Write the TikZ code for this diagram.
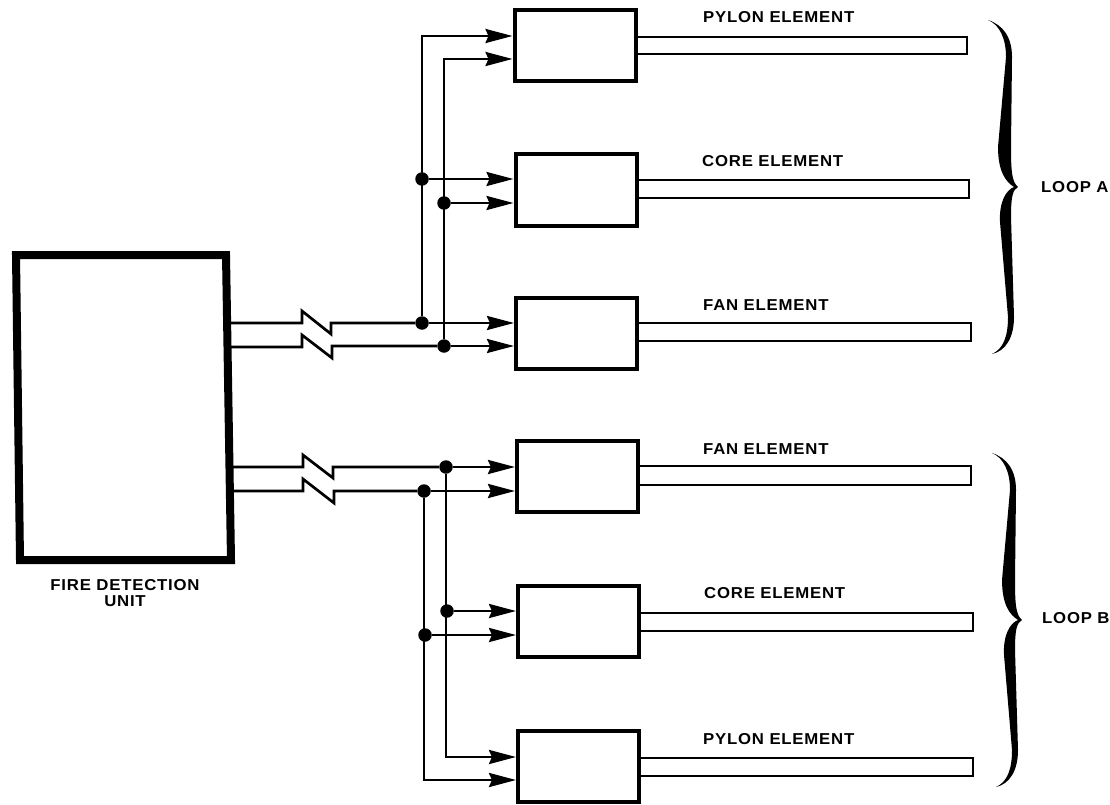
\documentclass[tikz,border=0pt]{standalone}
\usepackage{fontspec}
\setmainfont{Liberation Sans}[FakeStretch=1.06,LetterSpace=5]
\usetikzlibrary{arrows.meta}

\tikzset{
  wire/.style={line width=2.7pt},
  unitline/.style={line width=8pt, line join=miter},
  elbox/.style={draw, line width=4pt, fill=white, minimum width=121pt, minimum height=71pt},
  strip/.style={line width=2.7pt, line join=miter},
  junct/.style={circle, fill, inner sep=0pt, minimum size=13.5pt},
  lbl/.style={anchor=west, inner sep=0pt, font=\fontsize{15.8}{18}\bfseries\selectfont},
  loopbrace/.pic={
    \fill (-30,-167) .. controls (-15,-162) and (-6,-150) .. (-6,-130) -- (-7,-40)
      .. controls (-7,-15) and (-6,-5) .. (0,0) .. controls (-5,3) and (-7,8) .. (-7,30)
      -- (-4,130) .. controls (-4,150) and (-12,164) .. (-26,167)
      .. controls (-15,162) and (-10,150) .. (-10,130) -- (-18,35)
      .. controls (-19,15) and (-12,3) .. (-4,0) .. controls (-12,-5) and (-20,-15) .. (-20,-40)
      -- (-12,-130) .. controls (-12,-148) and (-18,-162) .. (-30,-167) -- cycle;
  }
}

\begin{document}
\begin{tikzpicture}[x=1pt, y=-1pt, >={Stealth[length=27pt,width=14pt,inset=3pt]}]
  \useasboundingbox (0,0) rectangle (1110,805);

  % fire detection unit
  \draw[unitline] (16,255) -- (226,255) -- (231,560) -- (20,560) -- cycle;
  \node[anchor=center, inner sep=0pt, align=center, font=\fontsize{15.8}{16}\bfseries\selectfont] (unitlabel) at (125,593) {FIRE DETECTION\\UNIT};

  \coordinate (outA) at (229,323);
  \coordinate (outB) at (229,347);
  \coordinate (outC) at (231,467);
  \coordinate (outD) at (231,491);

  % element boxes
  \node[elbox] (pylonA) at (575,46) {};
  \node[elbox] (coreA) at (576,190) {};
  \node[elbox] (fanA) at (576.5,333) {};
  \node[elbox] (fanB) at (577.5,476.5) {};
  \node[elbox] (coreB) at (578.5,621.5) {};
  \node[elbox] (pylonB) at (578.5,766.5) {};

  % sensing elements
  \draw[strip] (pylonA.east |- 0,37) -- (967,37) -- (967,54) -- (pylonA.east |- 0,54);
  \draw[strip] (coreA.east |- 0,180) -- (969,180) -- (969,198) -- (coreA.east |- 0,198);
  \draw[strip] (fanA.east |- 0,323) -- (971,323) -- (971,341) -- (fanA.east |- 0,341);
  \draw[strip] (fanB.east |- 0,466) -- (971,466) -- (971,485) -- (fanB.east |- 0,485);
  \draw[strip] (coreB.east |- 0,613) -- (973,613) -- (973,631) -- (coreB.east |- 0,631);
  \draw[strip] (pylonB.east |- 0,758) -- (973,758) -- (973,776) -- (pylonB.east |- 0,776);

  \node[lbl] (lblpylonA) at (703,17) {PYLON ELEMENT};
  \node[lbl] (lblcoreA) at (702,161) {CORE ELEMENT};
  \node[lbl] (lblfanA) at (703,305) {FAN ELEMENT};
  \node[lbl] (lblfanB) at (703,449) {FAN ELEMENT};
  \node[lbl] (lblcoreB) at (704,593) {CORE ELEMENT};
  \node[lbl] (lblpylonB) at (703,739) {PYLON ELEMENT};

  % junctions
  \node[junct] (jA) at (422,323) {};
  \node[junct] (jB) at (444,346) {};
  \node[junct] (jA2) at (422,179) {};
  \node[junct] (jB2) at (444,203) {};
  \node[junct] (jC) at (446,467) {};
  \node[junct] (jD) at (424,491) {};
  \node[junct] (jC2) at (447,611) {};
  \node[junct] (jD2) at (425,635) {};

  % wires with breaks
  \draw[wire] (outA) -- (302,323) -- (302,311) -- (331,334) -- (331,323) -- (jA);
  \draw[wire] (outB) -- (302,347) -- (302,335) -- (332,358) -- (332,346) -- (jB);
  \draw[wire] (outC) -- (303,467) -- (303,455) -- (333,478) -- (333,467) -- (jC);
  \draw[wire] (outD) -- (303,491) -- (303,479) -- (334,503) -- (334,491) -- (jD);

  \draw[wire,->] (jA) -- (jA -| fanA.west);
  \draw[wire,->] (jB) -- (jB -| fanA.west);
  \draw[wire,->] (jC) -- (jC -| fanB.west);
  \draw[wire,->] (jD) -- (jD -| fanB.west);
  \draw[wire,->] (jA2) -- (jA2 -| coreA.west);
  \draw[wire,->] (jB2) -- (jB2 -| coreA.west);
  \draw[wire,->] (jC2) -- (jC2 -| coreB.west);
  \draw[wire,->] (jD2) -- (jD2 -| coreB.west);

  \draw[wire,->] (jA) |- (pylonA.west |- 0,36);
  \draw[wire,->] (jB) |- (pylonA.west |- 0,59);
  \draw[wire,->] (jC) |- (pylonB.west |- 0,757);
  \draw[wire,->] (jD) |- (pylonB.west |- 0,780);

  % loop braces
  \pic at (1018,187) {loopbrace};
  \pic at (1022,620) {loopbrace};
  \node[lbl] (loopA) at (1041,187) {LOOP A};
  \node[lbl] (loopB) at (1042,618) {LOOP B};
\end{tikzpicture}
\end{document}
